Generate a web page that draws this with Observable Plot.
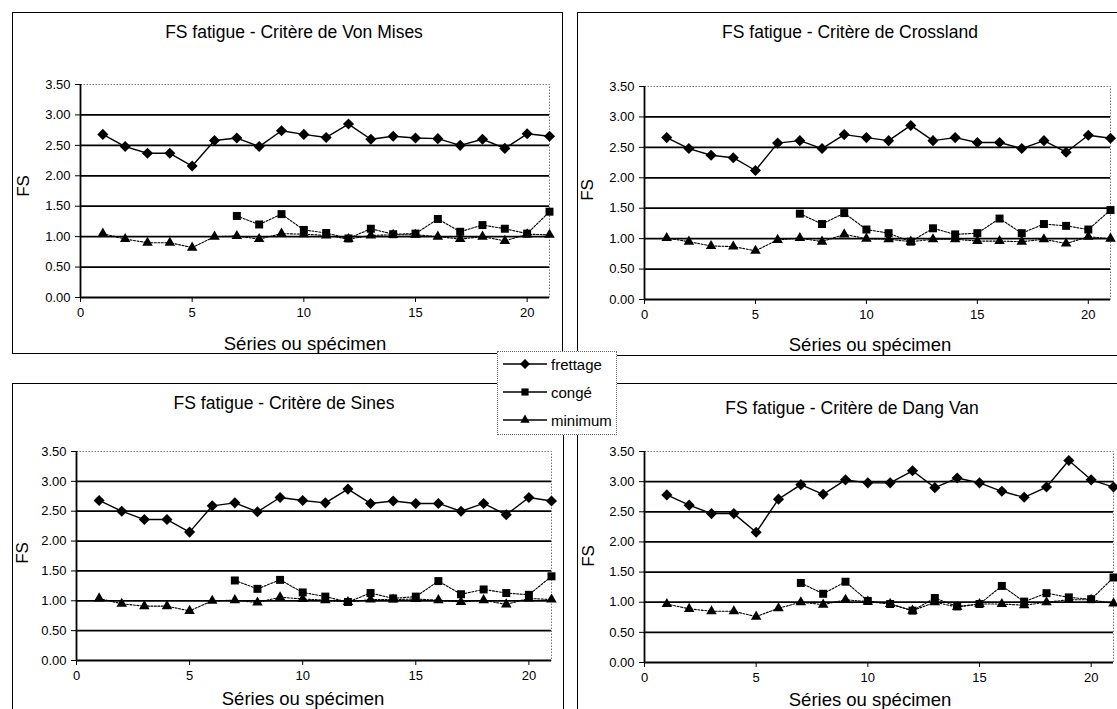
<!DOCTYPE html>
<html><head><meta charset="utf-8">
<script src="https://cdn.jsdelivr.net/npm/d3@7"></script>
<script src="https://cdn.jsdelivr.net/npm/@observablehq/plot@0.6"></script>
<style>
body{margin:0;background:#fff;font-family:Arial,"Liberation Sans",sans-serif;color:#000}
#wrap{position:relative;width:1117px;height:709px;overflow:hidden;background:#fff}
.box{position:absolute;border:1.5px solid #000;box-sizing:border-box;background:#fff}
.title{position:absolute;font-size:17.5px;transform:translate(-50%,-50%);white-space:nowrap}
.xlab{position:absolute;font-size:18.5px;transform:translate(-50%,-50%);white-space:nowrap}
.ylab{position:absolute;font-size:17px;transform:translate(-50%,-50%) rotate(-90deg);white-space:nowrap}
.plot{position:absolute}
#legend{position:absolute;left:497px;top:351px;width:120px;height:84px;border:1px dotted #666;background:#fff;box-sizing:border-box}
.lrow{position:absolute;left:4px;height:16px;display:flex;align-items:center;font-size:15px}
</style></head>
<body><div id="wrap"></div>
<script>
// ---- data ----
const seriesNames = ["frettage", "congé", "minimum"];
const specimens = [1,2,3,4,5,6,7,8,9,10,11,12,13,14,15,16,17,18,19,20,21];
const xTicks = [0, 5, 10, 15, 20];
const yTicks = [0, 0.5, 1, 1.5, 2, 2.5, 3, 3.5];
const titles = ["FS fatigue - Critère de Von Mises", "FS fatigue - Critère de Crossland", "FS fatigue - Critère de Sines", "FS fatigue - Critère de Dang Van"];
const xLabel = "Séries ou spécimen";
const yLabel = "FS";

const vmFrettage = [2.68,2.48,2.37,2.37,2.16,2.58,2.62,2.48,2.74,2.68,2.63,2.85,2.60,2.65,2.62,2.61,2.50,2.60,2.45,2.69,2.65];
const vmConge    = [null,null,null,null,null,null,1.34,1.20,1.37,1.11,1.06,0.97,1.13,1.04,1.05,1.29,1.08,1.19,1.13,1.05,1.41];
const vmMinimum  = [1.05,0.96,0.90,0.90,0.82,1.00,1.01,0.96,1.05,1.04,1.02,0.96,1.02,1.03,1.03,1.00,0.96,1.00,0.93,1.04,1.03];

const crFrettage = [2.66,2.48,2.37,2.33,2.12,2.57,2.61,2.48,2.71,2.66,2.61,2.86,2.61,2.66,2.58,2.58,2.48,2.61,2.42,2.70,2.65];
const crConge    = [null,null,null,null,null,null,1.41,1.24,1.42,1.15,1.09,0.95,1.17,1.07,1.09,1.33,1.09,1.24,1.21,1.15,1.47];
const crMinimum  = [1.01,0.95,0.88,0.87,0.80,0.98,1.01,0.95,1.07,1.00,0.99,0.95,0.99,0.99,0.96,0.96,0.95,0.99,0.92,1.03,1.00];

const siFrettage = [2.68,2.50,2.36,2.36,2.15,2.59,2.64,2.49,2.73,2.68,2.64,2.87,2.63,2.67,2.63,2.63,2.50,2.63,2.44,2.73,2.67];
const siConge    = [null,null,null,null,null,null,1.34,1.20,1.35,1.14,1.07,0.98,1.13,1.04,1.07,1.33,1.11,1.19,1.13,1.10,1.41];
const siMinimum  = [1.04,0.95,0.91,0.91,0.83,1.00,1.01,0.97,1.06,1.03,1.01,0.98,1.02,1.02,1.03,1.01,0.98,1.01,0.94,1.04,1.02];

const dvFrettage = [2.78,2.61,2.47,2.47,2.16,2.71,2.95,2.79,3.03,2.98,2.98,3.18,2.90,3.06,2.98,2.84,2.74,2.91,3.35,3.03,2.91];
const dvConge    = [null,null,null,null,null,null,1.32,1.14,1.34,1.02,0.97,0.86,1.07,0.93,0.97,1.27,1.01,1.15,1.08,1.05,1.41];
const dvMinimum  = [0.97,0.89,0.85,0.85,0.76,0.90,1.00,0.96,1.04,1.01,0.97,0.86,1.00,0.92,0.97,0.97,0.95,1.00,1.04,1.04,0.98];

const panelSeries = [
  [vmFrettage, vmConge, vmMinimum],
  [crFrettage, crConge, crMinimum],
  [siFrettage, siConge, siMinimum],
  [dvFrettage, dvConge, dvMinimum]
];

// ---- layout (page pixels) ----
const layouts = [
  {box:[12,12,563,354],  plot:[80,84,549,297],   title:[294,32],  xlab:[305,344], ylab:[24,186]},
  {box:[577,12,1130,356],plot:[644,86,1110,299], title:[850,32],  xlab:[870,345], ylab:[588,190]},
  {box:[12,383,564,720], plot:[76,451,551,660],  title:[284,403], xlab:[303,699], ylab:[23,553]},
  {box:[577,383,1130,720],plot:[644,451,1113,662],title:[852,408], xlab:[870,700], ylab:[589,556]}
];

const marker = {frettage:{symbol:"diamond2", r:5}, "congé":{symbol:"square", r:4.5}, minimum:{symbol:"triangle", r:3.9}};
const lineStyle = {frettage:{strokeWidth:1.4, dash:null}, "congé":{strokeWidth:1.1, dash:"2,1.5"}, minimum:{strokeWidth:1.1, dash:"2,1.5"}};

const wrap = document.getElementById("wrap");
function addDiv(cls, x, y, text){ const d=document.createElement("div"); d.className=cls; d.style.left=x+"px"; d.style.top=y+"px"; d.textContent=text; wrap.appendChild(d); return d; }

layouts.forEach((L, p) => {
  const [bx1,by1,bx2,by2] = L.box;
  const box = document.createElement("div");
  box.className = "box";
  Object.assign(box.style,{left:bx1+"px",top:by1+"px",width:(bx2-bx1)+"px",height:(by2-by1)+"px"});
  wrap.appendChild(box);
  addDiv("title", L.title[0], L.title[1], titles[p]);
  addDiv("xlab", L.xlab[0], L.xlab[1], xLabel);
  addDiv("ylab", L.ylab[0], L.ylab[1], yLabel);

  const data = [];
  seriesNames.forEach((s, k) => {
    specimens.forEach((x, i) => {
      const v = panelSeries[p][k][i];
      if (v != null) data.push({series:s, x, y:v});
    });
  });

  const sx = L.box[0] + 20, sy = L.plot[1] - 20;
  const W = L.box[2] - sx, H = (L.plot[3] + 30) - sy;
  const [px1,py1,px2,py2] = L.plot;
  const marks = [
    Plot.frame({stroke:"#777", strokeDasharray:"1.5,1.5"}),
    Plot.ruleY(yTicks.filter(v => v < 3.5), {stroke:"#000", strokeWidth:1.8}),
    Plot.ruleX([0], {stroke:"#000", strokeWidth:1.8}),
    Plot.axisY({ticks:yTicks, tickFormat:d3.format(".2f"), tickSize:5, tickPadding:5, label:null, fontSize:13, fill:"#000"}),
    Plot.axisX({ticks:xTicks, tickFormat:d=>String(d), tickSize:5, tickPadding:5, label:null, fontSize:13, fill:"#000"})
  ];
  seriesNames.forEach(s => {
    marks.push(Plot.line(data, {filter:d=>d.series===s, x:"x", y:"y", stroke:"#000", strokeWidth:lineStyle[s].strokeWidth, strokeDasharray:lineStyle[s].dash}));
  });
  seriesNames.forEach(s => {
    marks.push(Plot.dot(data, {filter:d=>d.series===s, x:"x", y:"y", symbol:marker[s].symbol, r:marker[s].r, fill:"#000", stroke:"none"}));
  });
  const chart = Plot.plot({
    width:W, height:H,
    marginLeft:px1-sx, marginRight:sx+W-px2, marginTop:py1-sy, marginBottom:sy+H-py2,
    x:{domain:[0,21]}, y:{domain:[0,3.5]},
    style:{fontFamily:"Arial, 'Liberation Sans', sans-serif", fontSize:"13px", color:"#000", background:"transparent", overflow:"visible"},
    marks
  });
  chart.classList.add("plot");
  chart.style.left = sx+"px"; chart.style.top = sy+"px";
  wrap.appendChild(chart);
});

// ---- legend ----
const legend = document.createElement("div");
legend.id = "legend";
wrap.appendChild(legend);
seriesNames.forEach((s, k) => {
  const row = document.createElement("div");
  row.className = "lrow";
  row.style.top = (4 + k*28) + "px";
  const svg = d3.create("svg").attr("width",46).attr("height",14).style("margin-right","3px");
  svg.append("line").attr("x1",1).attr("x2",45).attr("y1",7).attr("y2",7).attr("stroke","#000").attr("stroke-width",1.5);
  const sym = {diamond2:d3.symbolDiamond2, square:d3.symbolSquare, triangle:d3.symbolTriangle}[marker[s].symbol];
  svg.append("path").attr("transform","translate(23,7)").attr("d", d3.symbol(sym, Math.PI*marker[s].r*marker[s].r*0.8)()).attr("fill","#000");
  row.appendChild(svg.node());
  const t = document.createElement("span"); t.textContent = s; row.appendChild(t);
  legend.appendChild(row);
});
</script>
</body></html>
